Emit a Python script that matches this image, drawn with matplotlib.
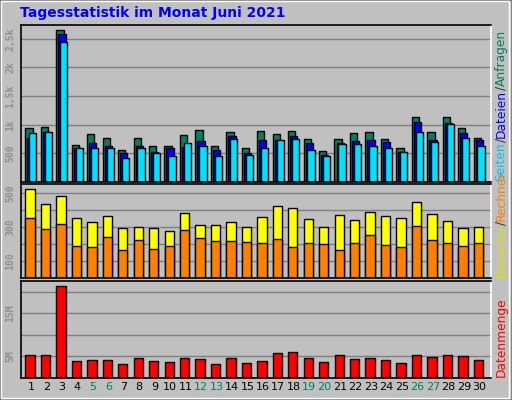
import matplotlib
matplotlib.use("Agg")
import matplotlib.pyplot as plt
import numpy as np
from matplotlib.patches import Rectangle

days = list(range(1, 31))
hits = [936,953,2655,643,830,760,555,760,620,637,813,900,620,865,585,883,830,883,743,538,743,848,865,743,585,1129,865,1129,936,760]
files = [760,877,2585,585,673,620,503,620,532,585,608,708,555,795,503,725,725,795,673,468,673,708,725,690,532,1041,725,1023,848,725]
pages = [848,865,2450,585,602,602,415,585,503,462,673,637,462,743,468,585,725,743,567,462,655,655,637,602,532,865,690,1006,760,637]
visits = [524,435,482,353,329,365,294,300,294,276,382,312,312,329,300,359,424,412,347,300,371,341,388,365,353,447,376,335,294,300]
sites = [353,288,318,188,182,241,165,224,171,188,282,235,218,218,212,206,229,182,206,200,165,206,253,194,182,306,224,206,188,206]
kbytes_m = [5.3,5.3,21.4,3.9,4.1,4.1,3.2,4.6,3.9,3.6,4.6,4.3,3.2,4.6,3.4,3.9,5.8,6.0,4.6,3.6,5.3,4.3,4.6,4.1,3.4,5.3,4.8,5.3,5.1,4.1]
weekends = [5,6,12,13,19,20,26,27]

W, H = 512, 400
fig = plt.figure(figsize=(W/100, H/100), dpi=100)
fig.patch.set_facecolor("#c0c0c0")
BG = "#c0c0c0"
fig.add_artist(Rectangle((0, 0), 1, 1, transform=fig.transFigure, fill=False, edgecolor="#808080", lw=2))
fig.add_artist(Rectangle((1/W, 2/H), 1-4/W, 1-3/H, transform=fig.transFigure, fill=False, edgecolor="white", lw=1))

def ax_px(x0, y0, x1, y1):
    return fig.add_axes([x0/W, 1-y1/H, (x1-x0)/W, (y1-y0)/H])

x = np.array(days)
xlim = (0.353, 30.76)

def style(ax, ylim, ticks, labels):
    ax.set_facecolor(BG)
    ax.set_xlim(*xlim)
    ax.set_ylim(*ylim)
    ax.set_yticks(ticks)
    ax.set_yticklabels(labels, rotation=90, va="center", color="#909090",
                       fontsize=7, fontfamily="DejaVu Sans Mono", fontweight="bold")
    ax.tick_params(axis="y", length=0, pad=4)
    ax.tick_params(axis="x", length=0)
    ax.set_xticks([])
    ax.grid(axis="y", color="#808080", lw=1)
    ax.set_axisbelow(True)
    for s in ax.spines.values():
        s.set_color("black"); s.set_linewidth(1.2)
    ax.spines["right"].set_color("white")

kw = dict(edgecolor="black", linewidth=1)
a1 = ax_px(21, 25, 491, 182)
style(a1, (0, 2740), [500, 1000, 1500, 2000, 2500], ["500", "1k", "1,5k", "2k", "2,5k"])
a1.bar(x-0.13, hits, 0.47, color="#008060", **kw)
a1.bar(x+0.0, files, 0.47, color="#0000ff", **kw)
a1.bar(x+0.12, pages, 0.47, color="#00e0ff", **kw)

a2 = ax_px(21, 184, 491, 278)
style(a2, (0, 555), [100, 200, 300, 400, 500], ["100", "", "300", "", "500"])
a2.bar(x-0.06, visits, 0.6, color="#ffff00", **kw)
a2.bar(x-0.06, sites, 0.6, color="#ff8000", **kw)

a3 = ax_px(21, 281, 491, 378)
style(a3, (0, 22.5), [5, 10, 15, 20], ["5M", "", "15M", ""])
a3.bar(x-0.06, kbytes_m, 0.6, color="#ff0000", **kw)
for d in days:
    a3.text(d, -0.9, str(d), ha="center", va="top", fontsize=8,
            color="#008060" if d in weekends else "black")
a3.set_ylim(0, 22.5)

fig.text(20/W, 1-13/H, "Tagesstatistik im Monat Juni 2021", color="#0000ff",
         fontsize=10, fontweight="bold", va="center", ha="left")

def stacked(parts, xpix, ybot, fs):
    fig.canvas.draw()
    r = fig.canvas.get_renderer()
    y = ybot
    for s, c in parts:
        t = fig.text(xpix/W, 1-y/H, s, color=c, rotation=90, fontsize=fs,
                     ha="center", va="bottom")
        bb = t.get_window_extent(r)
        y -= bb.height

stacked([("Seiten", "#00c0ff"), ("/", "#303030"), ("Dateien", "#0000ff"), ("/", "#303030"), ("Anfragen", "#008060")], 501, 181, 8.8)
stacked([("Besuche", "#e0e000"), ("/", "#303030"), ("Rechner", "#ff8000")], 501, 277, 8.8)
stacked([("Datenmenge", "#ff0000")], 501, 377, 8.8)

fig.savefig("out.png", dpi=100, facecolor=fig.get_facecolor())
